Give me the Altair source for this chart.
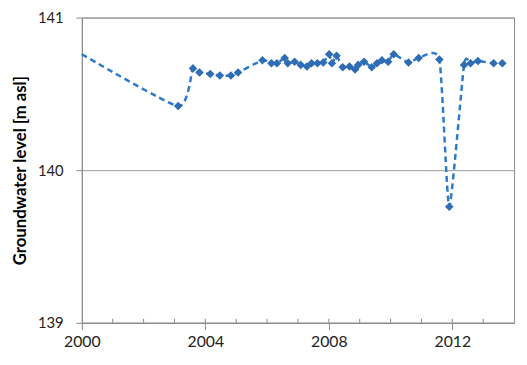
import altair as alt
import pandas as pd

# Start of the smoothed series at the left edge (no marker)
start_year = [2000.0]
start_level = [140.76]

# Measured groundwater levels (markers)
years = [2003.12, 2003.60, 2003.81, 2004.16, 2004.47, 2004.83, 2005.06, 2005.85,
         2006.14, 2006.32, 2006.57, 2006.67, 2006.89, 2007.09, 2007.29, 2007.44,
         2007.63, 2007.82, 2008.01, 2008.10, 2008.25, 2008.45, 2008.67, 2008.85,
         2008.95, 2009.14, 2009.39, 2009.56, 2009.72, 2009.92, 2010.10, 2010.58,
         2010.91, 2011.58, 2011.90, 2012.38, 2012.59, 2012.83, 2013.34, 2013.62]
levels = [140.42, 140.667, 140.64, 140.63, 140.62, 140.62, 140.64, 140.72,
          140.70, 140.70, 140.735, 140.70, 140.71, 140.69, 140.68, 140.70,
          140.70, 140.705, 140.76, 140.70, 140.75, 140.675, 140.68, 140.66,
          140.69, 140.71, 140.675, 140.70, 140.72, 140.71, 140.76, 140.705,
          140.735, 140.725, 139.76, 140.69, 140.70, 140.715, 140.70, 140.70]

major_years = [2000, 2004, 2008, 2012]
minor_years = list(range(2001, 2014))
y_ticks = [139.0, 140.0, 141.0]

line_df = pd.DataFrame({"year": start_year + years, "level": start_level + levels})
pts_df = pd.DataFrame({"year": years, "level": levels})
minor_df = pd.DataFrame({"year": minor_years})

FONT = "Lato"
xscale = alt.Scale(domain=[2000, 2014], nice=False, zero=False)
yscale = alt.Scale(domain=[139, 141], nice=False, zero=False)

xaxis = alt.Axis(values=major_years, format="d", title=None, grid=False,
                 tickSize=7, labelPadding=4, labelFlush=False,
                 labelFont=FONT, labelFontSize=16, labelColor="#222222",
                 tickColor="#888888", domainColor="#888888")
yaxis = alt.Axis(values=y_ticks, format=".0f", title="Groundwater level [m asl]",
                 grid=True, gridColor="#999999", gridWidth=1,
                 tickSize=6, labelPadding=13, labelOverlap=False, labelFlush=False,
                 labelFont=FONT, labelFontSize=15, labelColor="#222222",
                 tickColor="#888888", domainColor="#888888",
                 titleFont=FONT, titleFontSize=17, titleFontWeight="bold",
                 titleColor="#000000",
                 titleAngle=270, titleX=-62, titleY=155,
                 titleAlign="center", titleBaseline="middle")

X = alt.X("year:Q", scale=xscale, axis=xaxis)
Y = alt.Y("level:Q", scale=yscale, axis=yaxis)

line = alt.Chart(line_df).mark_line(
    interpolate="cardinal", tension=0.45, strokeDash=[6, 4], strokeWidth=2.5,
    color="#2C7BCB"
).encode(x=X, y=Y)

points = alt.Chart(pts_df).mark_point(
    shape="diamond", filled=True, size=75, color="#2E6DB4", opacity=1
).encode(x=X, y=Y)

minor = alt.Chart(minor_df).mark_rule(color="#888888", strokeWidth=1).encode(
    x=X,
    y=alt.value(306),
    y2=alt.value(310),
)

chart = alt.layer(line, minor, points).properties(
    width=439, height=310,
    autosize=alt.AutoSizeParams(type="none"),
    padding={"left": 75, "top": 7, "right": 5, "bottom": 30},
).configure_view(
    stroke="#888888", strokeWidth=1
)

chart.save("out.html", embed_options={"renderer": "svg", "actions": False})
